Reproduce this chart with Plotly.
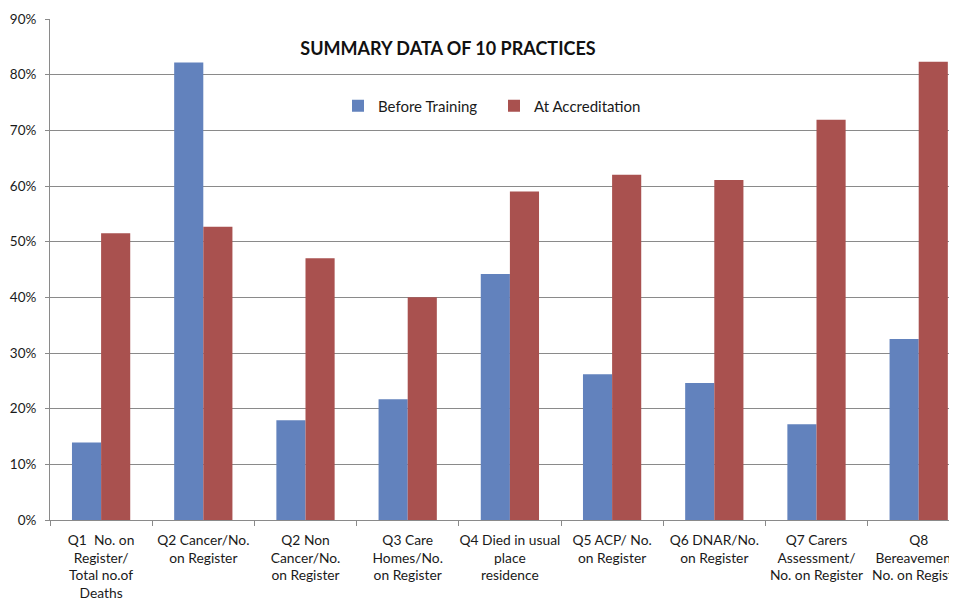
import plotly.graph_objects as go

categories = [
    "Q1  No. on<br>Register/<br>Total no.of<br>Deaths",
    "Q2 Cancer/No.<br>on Register",
    "Q2 Non<br>Cancer/No.<br>on Register",
    "Q3 Care<br>Homes/No.<br>on Register",
    "Q4 Died in usual<br>place<br>residence",
    "Q5 ACP/ No.<br>on Register",
    "Q6 DNAR/No.<br>on Register",
    "Q7 Carers<br>Assessment/<br>No. on Register",
    "Q8<br>Bereavement/<br>No. on Register",
]
before_training = [0.139, 0.822, 0.179, 0.217, 0.442, 0.262, 0.246, 0.172, 0.325]
at_accreditation = [0.515, 0.527, 0.470, 0.400, 0.590, 0.620, 0.611, 0.719, 0.823]

FONT = "Lato, 'Open Sans', sans-serif"
GRID = "#8a8a8a"
TXT = "#1a1a1a"

fig = go.Figure()
fig.add_trace(go.Bar(name="Before Training", x=categories, y=before_training,
                     marker=dict(color="#6282BD", line=dict(width=0))))
fig.add_trace(go.Bar(name="At Accreditation", x=categories, y=at_accreditation,
                     marker=dict(color="#A9514F", line=dict(width=0))))

OFF = 8  # page body margin
W, H = 957 - OFF, 598 - OFF
L, T, B = 42, 11, 77.5
plot_w = W - L
plot_h = H - T - B
unit = 102.2
right = 8.5 - ((50 + 9 * unit) - 957) / unit

fig.update_layout(
    template="none",
    width=W, height=H,
    margin=dict(l=L, r=0, t=T, b=B, pad=0),
    paper_bgcolor="white", plot_bgcolor="white",
    font=dict(family=FONT, size=13.5, color=TXT),
    barmode="group", bargap=0.43, bargroupgap=0,
    title=dict(text="<b>SUMMARY DATA OF 10 PRACTICES</b>", x=(448 - OFF) / W, xref="container",
               xanchor="center", y=1 - (49 - OFF) / H, yref="container", yanchor="middle",
               font=dict(family=FONT, size=18, color="#111")),
    showlegend=True,
    legend=dict(orientation="h", x=(338 - 50) / plot_w, xanchor="left",
                y=(520.5 - 106) / plot_h, yanchor="middle",
                font=dict(family=FONT, size=15, color=TXT),
                bgcolor="rgba(0,0,0,0)", entrywidth=111, entrywidthmode="pixels",
                itemwidth=30, traceorder="normal"),
    xaxis=dict(range=[-0.5, right], showgrid=False, zeroline=False,
               showline=True, linecolor=GRID, linewidth=1,
               ticks="outside", tickson="boundaries", ticklen=5, tickcolor=GRID,
               tickfont=dict(family=FONT, size=13.8, color=TXT),
               ticklabelstandoff=7,
               tickangle=0, automargin=False, fixedrange=True),
    yaxis=dict(range=[0, 0.9], dtick=0.1, tick0=0, tickformat=".0%",
               showgrid=True, gridcolor=GRID, gridwidth=1, zeroline=False,
               showline=True, linecolor=GRID, linewidth=1,
               ticks="outside", ticklen=4, tickcolor=GRID,
               tickfont=dict(family=FONT, size=13.5, color=TXT),
               ticklabelstandoff=6,
               automargin=False, fixedrange=True),
)

fig.write_html("out.html")
